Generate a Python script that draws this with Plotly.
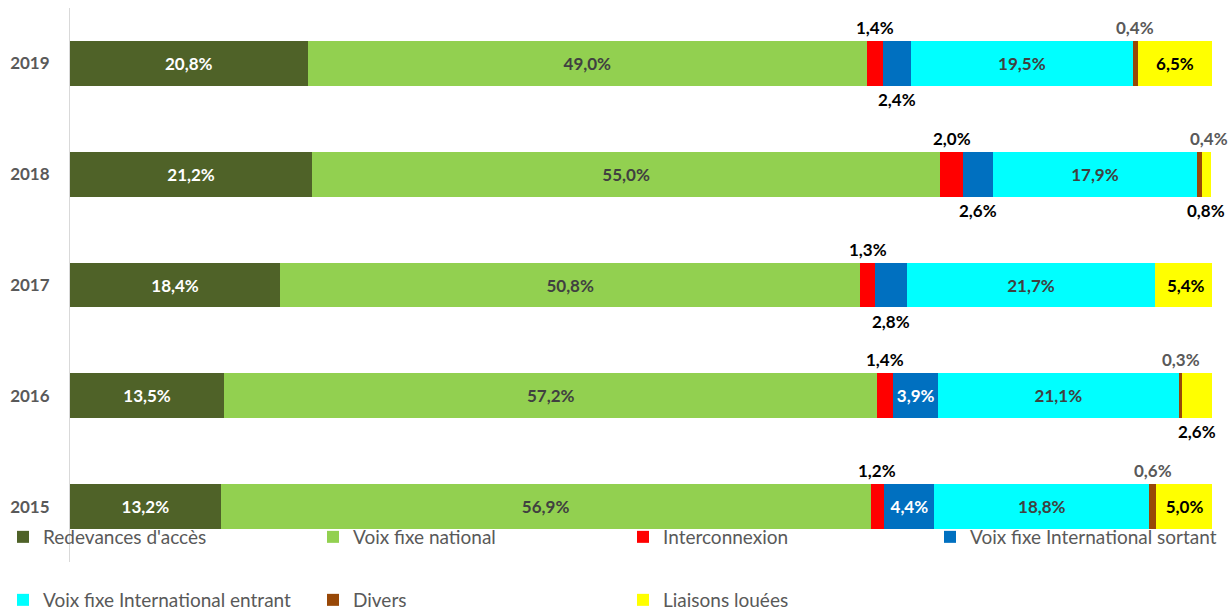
import plotly.graph_objects as go

years = ["2015", "2016", "2017", "2018", "2019"]
series = ["Redevances d'accès", "Voix fixe national", "Interconnexion",
          "Voix fixe International sortant", "Voix fixe International entrant",
          "Divers", "Liaisons louées"]
redevances = [13.2, 13.5, 18.4, 21.2, 20.8]
voix_national = [56.9, 57.2, 50.8, 55.0, 49.0]
interconnexion = [1.2, 1.4, 1.3, 2.0, 1.4]
intl_sortant = [4.4, 3.9, 2.8, 2.6, 2.4]
intl_entrant = [18.8, 21.1, 21.7, 17.9, 19.5]
divers = [0.6, 0.3, 0.0, 0.4, 0.4]
liaisons = [5.0, 2.6, 5.4, 0.8, 6.5]

values = [redevances, voix_national, interconnexion, intl_sortant, intl_entrant, divers, liaisons]
colors = ["#4F6228", "#92D050", "#FF0000", "#0070C0", "#00FFFF", "#984807", "#FFFF00"]
inside_color = ["#FFFFFF", "#404040", "#000000", "#FFFFFF", "#404040", "#595959", "#000000"]
inside_min = 3.0

# legend placement (symbol centre px, row centre px) for each entry
legend_pos = [(23, 537), (333, 537), (643, 537), (950, 537),
              (23, 600), (333, 600), (643, 600)]

W, H = 1229, 610
ML, MR, MT, MB = 70, 17, 8, 48
PW, PH = W - ML - MR, H - MT - MB


def fmt(v):
    return f"{v:.1f}".replace(".", ",") + "%"


FONT = "Lato"
fig = go.Figure()
legend_layouts = {}
for i, (name, vals) in enumerate(zip(series, values)):
    txt = [fmt(v) if v >= inside_min else "" for v in vals]
    lname = "legend" if i == 0 else f"legend{i + 1}"
    fig.add_trace(go.Bar(
        y=years, x=vals, name=name, orientation="h",
        marker=dict(color=colors[i], line=dict(width=0)),
        text=txt, textposition="inside", insidetextanchor="middle",
        textangle=0, constraintext="none",
        textfont=dict(family=FONT, size=17, color=inside_color[i], weight="bold"),
        legend=lname,
        hoverinfo="x+name",
    ))
    sx, sy = legend_pos[i]
    legend_layouts[lname] = dict(
        orientation="h", xanchor="left", yanchor="middle",
        x=(sx - 20 - ML) / PW, y=(H - MB - sy) / PH,
        font=dict(family=FONT, size=19, color="#595959"),
        bgcolor="rgba(0,0,0,0)", borderwidth=0,
    )

out_rules = {2: (-1, "#000000"), 3: (1, "#000000"), 5: (-1, "#595959"), 6: (1, "#000000")}
for yi, yr in enumerate(years):
    cum = 0.0
    for si, vals in enumerate(values):
        v = vals[yi]
        mid = cum + v / 2
        cum += v
        if v <= 0 or v >= inside_min or si not in out_rules:
            continue
        pos, col = out_rules[si]
        xshift = 0
        if si == 5 and yr == "2018":
            xshift = 10
        fig.add_annotation(
            x=mid, y=yi, xref="x", yref="y", text=fmt(v), showarrow=False,
            yshift=36 * (-pos), xshift=xshift,
            font=dict(family=FONT, size=17, color=col, weight="bold"),
        )

fig.update_layout(
    width=W, height=H,
    margin=dict(l=ML, r=MR, t=MT, b=MB, autoexpand=False),
    plot_bgcolor="white", paper_bgcolor="white",
    barmode="stack", bargap=0.595,
    showlegend=True,
    font=dict(family=FONT, color="#595959"),
    xaxis=dict(range=[0, 100], visible=False, fixedrange=True),
    yaxis=dict(type="category", categoryorder="array", categoryarray=years,
               range=[-0.5, 4.5], automargin=False,
               showline=True, linecolor="#D9D9D9", linewidth=1,
               ticks="", ticklabelstandoff=16,
               tickfont=dict(family=FONT, size=17, color="#595959", weight="bold"),
               showgrid=False, zeroline=False),
    uniformtext=dict(minsize=17, mode="show"),
    **legend_layouts,
)

fig.write_html(
    "out.html",
    config={"displayModeBar": False},
    post_script="document.body.style.margin='0';document.body.style.overflow='hidden';",
)
